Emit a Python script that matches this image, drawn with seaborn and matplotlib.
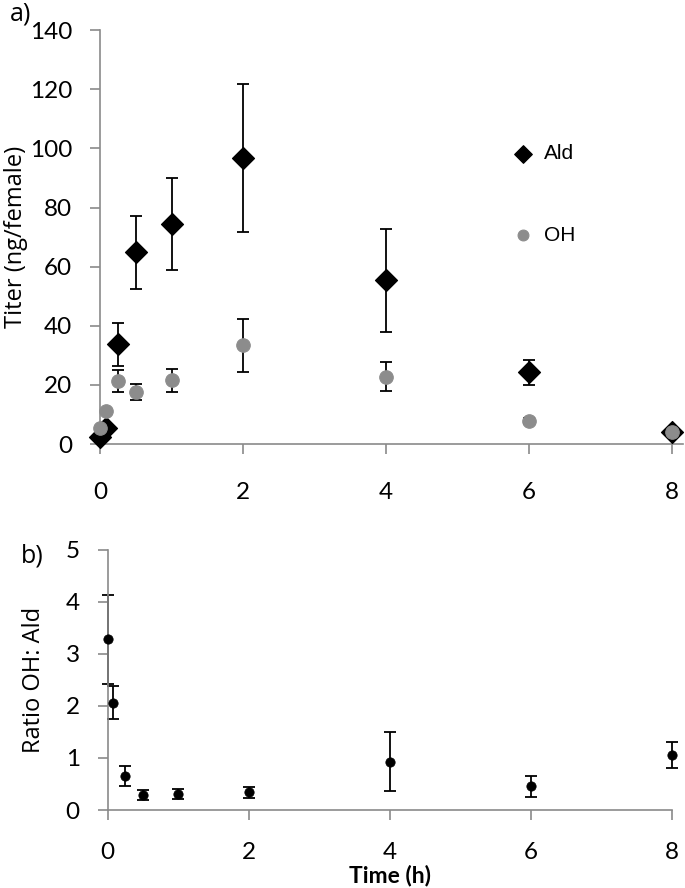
import numpy as np
import pandas as pd
import matplotlib
matplotlib.use("Agg")
import matplotlib.pyplot as plt
import seaborn as sns

# time points (h)
time_h = [0, 0.083, 0.25, 0.5, 1, 2, 4, 6, 8]

# titers (ng/female)
ald = [2.5, 5.5, 33.8, 64.8, 74.5, 96.8, 55.4, 24.3, 4.0]
ald_err = [0, 0, 7.3, 12.3, 15.6, 25.0, 17.4, 4.2, 0]
oh = [5.4, 11.2, 21.3, 17.6, 21.5, 33.4, 22.7, 7.9, 3.9]
oh_err = [0, 0, 3.6, 2.8, 4.0, 9.0, 4.9, 1.0, 0]

# ratio OH:Ald
ratio = [3.28, 2.06, 0.66, 0.29, 0.31, 0.34, 0.93, 0.46, 1.05]
ratio_err = [0.86, 0.32, 0.19, 0.09, 0.09, 0.10, 0.57, 0.20, 0.25]

sns.set_style("white")
plt.rcParams["font.family"] = ["Lato", "DejaVu Sans"]
plt.rcParams["text.color"] = "black"
plt.rcParams["axes.labelcolor"] = "black"

axis_gray = "#8a8a8a"
oh_gray = "#8c8c8c"
label_font = ["Open Sans", "DejaVu Sans"]


def style_axes(ax, xpad):
    sns.despine(ax=ax)
    for side in ["left", "bottom"]:
        ax.spines[side].set_color(axis_gray)
        ax.spines[side].set_linewidth(1.2)
    ax.tick_params(axis="both", direction="out", length=7, width=1.2,
                   color=axis_gray, labelsize=17.5, labelcolor="black",
                   left=True, bottom=True)
    ax.tick_params(axis="x", pad=xpad)
    ax.tick_params(axis="y", pad=13)


fig = plt.figure(figsize=(6.85, 8.88), dpi=100)
ax1 = fig.add_axes([0.146, 0.5, 0.835, 0.466])
ax2 = fig.add_axes([0.157, 0.0878, 0.824, 0.293])

# panel a
df_a = pd.DataFrame({
    "time": time_h * 2,
    "titer": ald + oh,
    "err": ald_err + oh_err,
    "compound": ["Ald"] * len(ald) + ["OH"] * len(oh),
})
for name, sub in df_a.groupby("compound"):
    ax1.errorbar(sub["time"], sub["titer"], yerr=sub["err"], fmt="none",
                 ecolor="black", elinewidth=1.3, capsize=4.5, capthick=1.3, zorder=2)
sns.scatterplot(data=df_a[df_a["compound"] == "Ald"], x="time", y="titer",
                marker="D", s=125, color="black", edgecolor="black", ax=ax1,
                label="Ald", zorder=3)
sns.scatterplot(data=df_a[df_a["compound"] == "OH"], x="time", y="titer",
                marker="o", s=95, color=oh_gray, edgecolor=oh_gray, ax=ax1,
                label="OH", zorder=4)
ax1.set_xlim(0, 8)
ax1.set_ylim(0, 140)
ax1.set_xticks([0, 2, 4, 6, 8])
ax1.set_yticks(np.arange(0, 141, 20))
ax1.set_xlabel("")
ax1.set_ylabel("Titer (ng/female)", fontsize=17, family=label_font, labelpad=1)
style_axes(ax1, 20)
ax1.spines["bottom"].set_bounds(0, 8.15)
leg = ax1.legend(loc="upper left", bbox_to_anchor=(0.67, 0.77), frameon=False,
                 labelspacing=3.0, handletextpad=0.0, markerscale=0.8,
                 prop={"family": ["Liberation Sans", "DejaVu Sans"], "size": 15})
fig.text(0.015, 0.998, "a)", fontsize=18, va="top", family=label_font)

# panel b
df_b = pd.DataFrame({"time": time_h, "ratio": ratio, "err": ratio_err})
ax2.errorbar(df_b["time"], df_b["ratio"], yerr=df_b["err"], fmt="none",
             ecolor="black", elinewidth=1.3, capsize=4.5, capthick=1.3, zorder=2)
sns.scatterplot(data=df_b, x="time", y="ratio", marker="o", s=45,
                color="black", edgecolor="black", ax=ax2, zorder=3)
ax2.set_xlim(0, 8)
ax2.set_ylim(0, 5)
ax2.set_xticks([0, 2, 4, 6, 8])
ax2.set_yticks([0, 1, 2, 3, 4, 5])
ax2.set_xlabel("Time (h)", fontsize=16.5, fontweight="bold", labelpad=1)
ax2.set_ylabel("Ratio OH: Ald", fontsize=17, family=label_font, labelpad=14)
style_axes(ax2, 16)
fig.text(0.03, 0.388, "b)", fontsize=18, va="top", family=label_font)

for ax in (ax1, ax2):
    for coll in ax.collections:
        coll.set_clip_on(False)
    for line in ax.lines:
        line.set_clip_on(False)

fig.savefig("out.png", dpi=100)
